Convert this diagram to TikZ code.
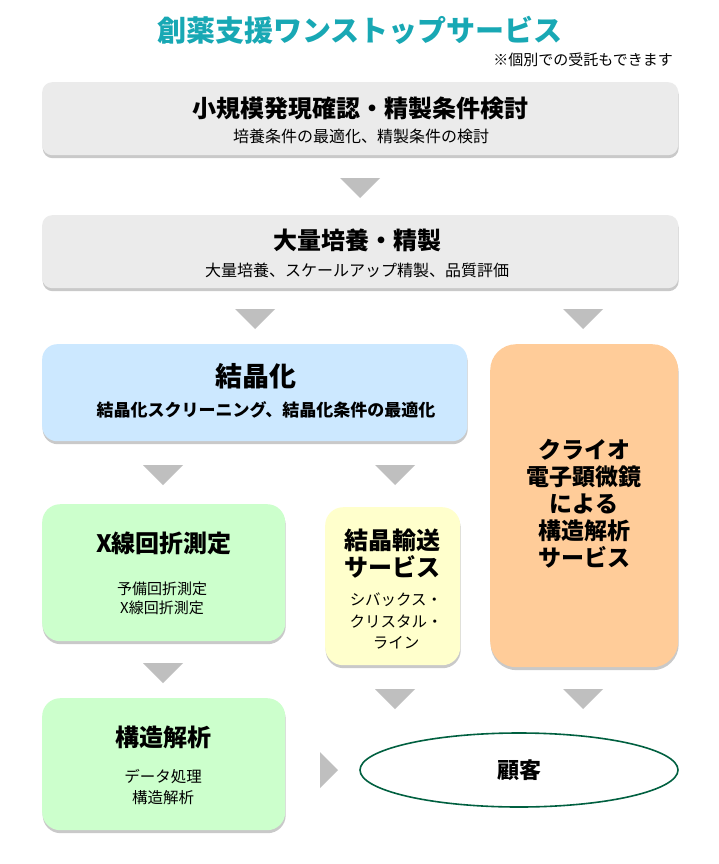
\documentclass[tikz,border=0pt]{standalone}
\usepackage{fontspec}
\setmainfont{Noto Sans CJK JP}
\usetikzlibrary{shapes.geometric,shadows}
\definecolor{titleteal}{RGB}{24,168,180}
\definecolor{boxgray}{RGB}{235,235,235}
\definecolor{boxblue}{RGB}{204,232,255}
\definecolor{boxorange}{RGB}{255,204,153}
\definecolor{boxgreen}{RGB}{204,255,204}
\definecolor{boxyellow}{RGB}{255,255,204}
\definecolor{arrowgray}{RGB}{191,191,191}
\definecolor{ellgreen}{RGB}{0,96,64}
\newcommand\fsz[2]{\fontsize{#1}{#2}\selectfont}
\newcommand\downtri[2]{\fill[arrowgray] ({#1-20},{#2}) -- ({#1+20},{#2}) -- ({#1},{#2+20}) -- cycle;}
\begin{document}
\begin{tikzpicture}[x=1pt,y=-1pt]
\useasboundingbox[fill=white] (0,0) rectangle (718,864);
\tikzset{
  panel/.style={draw=none, rounded corners=#1, anchor=north west, inner sep=0pt,
    drop shadow={shadow xshift=0.5pt,shadow yshift=-3pt,opacity=0.35,fill=black!60}},
  ttl/.style={font=\bfseries\fsz{24}{27}, inner sep=0pt, align=center},
  sub/.style={font=\fsz{15.5}{21}, inner sep=0pt, align=center},
}
% title
\node[font=\bfseries\fsz{29}{32}, text=titleteal, inner sep=0pt] (title) at (360,30) {創薬支援ワンストップサービス};
\node[font=\fsz{15}{16}, inner sep=0pt, anchor=east] (note) at (673,60) {※個別での受託もできます};

% box 1
\node[panel=10pt, fill=boxgray, minimum width=636pt, minimum height=73pt] (b1) at (42,82) {};
\node[ttl] (b1t) at (360,108) {小規模発現確認・精製条件検討};
\node[sub, font=\fsz{16}{20}] (b1s) at (361,136) {培養条件の最適化、精製条件の検討};
\downtri{360}{178}

% box 2
\node[panel=10pt, fill=boxgray, minimum width=636pt, minimum height=73pt] (b2) at (42,215) {};
\node[ttl] (b2t) at (357,240) {大量培養・精製};
\node[sub, font=\fsz{16}{20}] (b2s) at (357,270) {大量培養、スケールアップ精製、品質評価};
\downtri{255}{309}
\downtri{583}{309}

% box 3 blue
\node[panel=15pt, fill=boxblue, minimum width=425pt, minimum height=97pt] (b3) at (42,344) {};
\node[ttl, font=\bfseries\fsz{27}{30}] (b3t) at (256,376) {結晶化};
\node[sub, font=\bfseries\fsz{17}{20}] (b3s) at (266,410) {結晶化スクリーニング、結晶化条件の最適化};

% orange box
\node[panel=26pt, fill=boxorange, minimum width=188pt, minimum height=323pt] (b4) at (490,344) {};
\node[font=\bfseries\fsz{23}{27}, align=center, inner sep=0pt] (b4t) at (584,504)
  {クライオ\\電子顕微鏡\\による\\構造解析\\サービス};

\downtri{163}{465}
\downtri{395}{465}

% X-ray box
\node[panel=18pt, fill=boxgreen, minimum width=243pt, minimum height=137pt] (b5) at (42,504) {};
\node[ttl] (b5t) at (164,543) {X線回折測定};
\node[sub, font=\fsz{15}{19}] (b5s) at (162,598) {予備回折測定\\X線回折測定};

% transport box
\node[panel=18pt, fill=boxyellow, minimum width=135pt, minimum height=158pt] (b6) at (325,507) {};
\node[ttl] (b6t) at (392,554) {結晶輸送\\サービス};
\node[sub, font=\fsz{15.5}{21.5}] (b6s) at (396,621) {シバックス・\\クリスタル・\\ライン};

\downtri{163}{663}

% structure box
\node[panel=18pt, fill=boxgreen, minimum width=243pt, minimum height=132pt] (b7) at (42,698) {};
\node[ttl] (b7t) at (163,737) {構造解析};
\node[sub] (b7s) at (163,787) {データ処理\\構造解析};

\downtri{395}{689}
\downtri{583}{689}
\fill[arrowgray] (320,752) -- (338,770) -- (320,788) -- cycle;

% customer ellipse
\node[ellipse, draw=ellgreen, line width=1.6pt, fill=white, minimum width=318pt, minimum height=74pt, inner sep=0pt] (cust) at (519,770) {};
\node[ttl, font=\bfseries\fsz{22}{24}] (custt) at (519,770) {顧客};
\end{tikzpicture}
\end{document}
